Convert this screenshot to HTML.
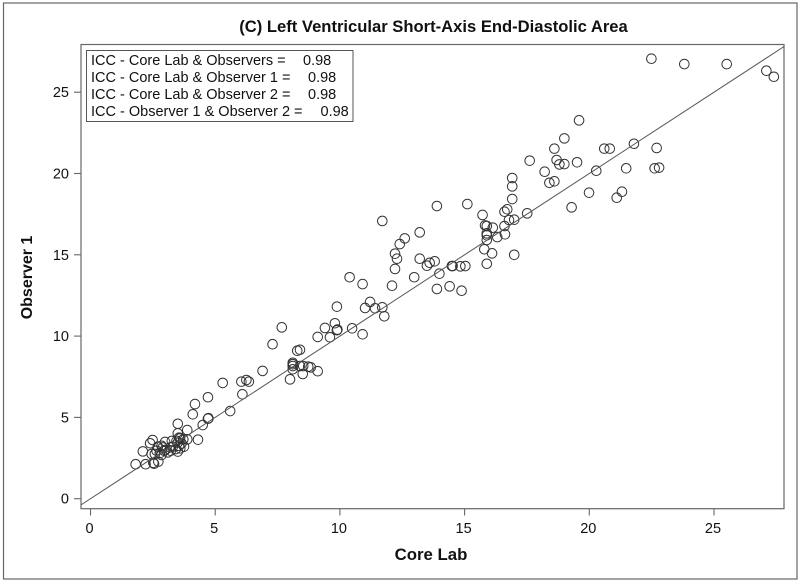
<!DOCTYPE html>
<html>
<head>
<meta charset="utf-8">
<title>Left Ventricular Short-Axis End-Diastolic Area</title>
<style>
html,body{margin:0;padding:0;background:#fff;}
svg{display:block;}
text{font-family:"Liberation Sans",Arial,sans-serif;fill:#111;}
</style>
</head>
<body>
<svg id="chart" xmlns="http://www.w3.org/2000/svg" width="800" height="583" viewBox="0 0 800 583">
  <rect x="0" y="0" width="800" height="583" fill="#fff"/>
  <rect x="3.5" y="3" width="793.5" height="576" fill="none" stroke="#666" stroke-width="1.2"/>
  <text x="433.5" y="32" text-anchor="middle" font-size="16.6" font-weight="bold">(C) Left Ventricular Short-Axis End-Diastolic Area</text>
  <rect x="81" y="44.5" width="703" height="464.2" fill="none" stroke="#666" stroke-width="1.2"/>
  <g id="ticks"></g>
  <g id="marks"></g>
  <line id="refline" stroke="#555" stroke-width="1"/>
  <text x="431" y="560" text-anchor="middle" font-size="16.8" font-weight="bold">Core Lab</text>
  <text transform="translate(32,277.5) rotate(-90)" text-anchor="middle" font-size="16" font-weight="bold">Observer 1</text>
  <g>
    <rect x="86.5" y="50.5" width="266.5" height="71" fill="#fff" stroke="#555" stroke-width="1"/>
    <text x="91" y="65" font-size="14.5">ICC - Core Lab &amp; Observers =<tspan x="303">0.98</tspan></text>
    <text x="91" y="82" font-size="14.5">ICC - Core Lab &amp; Observer 1 =<tspan x="308">0.98</tspan></text>
    <text x="91" y="99" font-size="14.5">ICC - Core Lab &amp; Observer 2 =<tspan x="308">0.98</tspan></text>
    <text x="91" y="116" font-size="14.5">ICC - Observer 1 &amp; Observer 2 =<tspan x="320.5">0.98</tspan></text>
  </g>
</svg>
<script>
const xTicks = [0, 5, 10, 15, 20, 25];
const yTicks = [0, 5, 10, 15, 20, 25];
const coreLab = [
  22.49,23.81,25.51,27.1,27.4,19.59,19.0,18.6,20.6,20.82,21.79,22.7,17.61,18.69,18.8,19.0,19.51,18.21,18.4,18.6,
  20.28,21.48,22.62,22.8,19.99,21.31,21.1,19.29,16.91,16.91,16.91,16.71,16.6,17.51,15.72,16.99,16.78,16.6,16.62,15.82,
  15.89,16.13,15.89,15.89,15.89,16.31,15.79,16.1,16.99,15.89,
  13.89,15.11,11.7,13.2,12.6,12.4,12.21,12.29,12.21,13.2,13.8,13.6,13.49,12.98,13.99,14.49,14.52,14.83,15.03,13.89,
  14.4,14.88,12.09,10.39,10.91,11.21,11.01,11.41,11.7,11.78,9.88,9.8,9.88,9.9,9.4,9.11,9.6,10.49,10.91,7.67,
  8.4,8.29,8.11,8.11,8.11,8.11,8.4,8.53,8.73,8.83,9.11,8.0,8.51,7.3,6.9,6.25,6.05,6.35,5.3,5.6,6.09,
  4.71,4.19,4.1,4.71,4.73,4.5,3.5,3.88,3.5,4.31,3.88,2.49,2.39,2.99,3.26,3.59,2.1,1.81,2.21,2.52,2.55,2.72,
  2.45,2.58,2.85,2.9,2.7,2.78,3.0,3.2,3.22,3.5,3.72,3.55,3.6,3.42,3.5,3.75,3.65,3.1,2.95,3.3,2.65,2.85,3.45,3.55
];
const observer1 = [
  27.06,26.73,26.73,26.32,25.95,23.27,22.16,21.53,21.53,21.53,21.83,21.57,20.79,20.83,20.56,20.58,20.69,20.11,19.43,19.52,
  20.17,20.32,20.32,20.36,18.82,18.88,18.51,17.92,19.72,19.21,18.43,17.8,17.65,17.55,17.45,17.16,17.14,16.77,16.26,16.81,
  16.77,16.67,16.32,16.2,15.91,16.09,15.34,15.09,15.0,14.45,
  18.0,18.12,17.08,16.38,16.01,15.66,15.07,14.76,14.13,14.76,14.6,14.51,14.33,13.62,13.84,14.31,14.31,14.29,14.31,12.9,
  13.06,12.79,13.1,13.62,13.2,12.1,11.73,11.71,11.77,11.22,11.81,10.79,10.36,10.4,10.5,9.95,9.93,10.48,10.11,10.54,
  9.16,9.1,8.36,8.27,8.16,7.96,8.16,8.16,8.12,8.08,7.84,7.34,7.67,9.5,7.86,7.3,7.2,7.2,7.12,5.39,6.42,
  6.24,5.82,5.19,4.92,4.95,4.53,4.61,4.22,4.02,3.63,3.65,3.61,3.41,3.49,3.55,3.71,2.91,2.12,2.12,2.21,2.15,2.28,
  2.75,2.75,2.69,3.15,3.2,2.8,3.0,3.15,2.95,3.45,3.65,3.25,3.1,3.05,2.9,3.2,3.4,2.85,2.95,3.2,2.95,3.25,3.55,3.75
];
const refLineDomain = [-0.38, 27.81];

const NS = 'http://www.w3.org/2000/svg';
function xScale(v){ return 90.5 + v * 24.94; }
function yScale(v){ return 498.7 - v * 16.26; }

const tickGroup = document.getElementById('ticks');
const markGroup = document.getElementById('marks');

function addLine(x1, y1, x2, y2){
  const l = document.createElementNS(NS, 'line');
  l.setAttribute('x1', x1);
  l.setAttribute('y1', y1);
  l.setAttribute('x2', x2);
  l.setAttribute('y2', y2);
  l.setAttribute('stroke', '#666');
  l.setAttribute('stroke-width', '1.1');
  
  
  tickGroup.appendChild(l);
}
function addLabel(x, y, str, anchor, name){
  const t = document.createElementNS(NS, 'text');
  t.setAttribute('x', x);
  t.setAttribute('y', y);
  t.setAttribute('text-anchor', anchor);
  t.setAttribute('font-size', '14.5');
  t.textContent = str;
  
  
  tickGroup.appendChild(t);
}
xTicks.forEach(function(v){
  const px = xScale(v);
  addLine(px, 508.7, px, 515.5);
  addLabel(px - 1, 533, String(v), 'middle', 'x-tick-label');
});
yTicks.forEach(function(v){
  const py = yScale(v);
  addLine(74, py, 81, py);
  addLabel(69, py + 5, String(v), 'end', 'y-tick-label');
});
coreLab.forEach(function(v, i){
  const c = document.createElementNS(NS, 'circle');
  c.setAttribute('cx', xScale(v));
  c.setAttribute('cy', yScale(observer1[i]));
  c.setAttribute('r', '4.8');
  c.setAttribute('fill', 'none');
  c.setAttribute('stroke', '#333');
  c.setAttribute('stroke-width', '1');
  
  
  markGroup.appendChild(c);
});
const ref = document.getElementById('refline');
ref.setAttribute('x1', xScale(refLineDomain[0]));
ref.setAttribute('y1', yScale(refLineDomain[0]));
ref.setAttribute('x2', xScale(refLineDomain[1]));
ref.setAttribute('y2', yScale(refLineDomain[1]));
</script>
</body>
</html>
